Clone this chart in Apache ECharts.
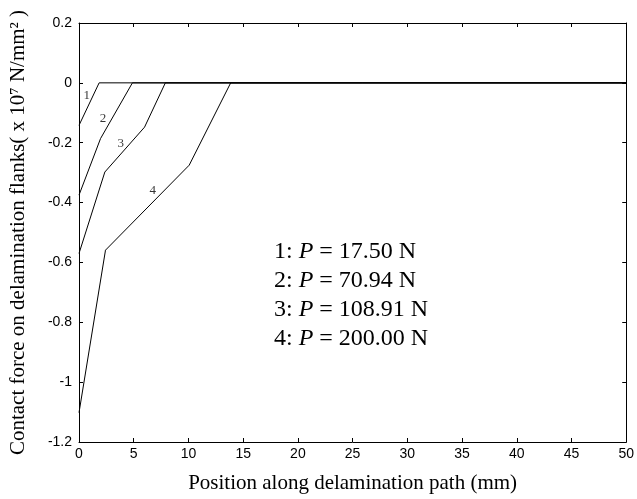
<!DOCTYPE html>
<html>
<head>
<meta charset="utf-8">
<script src="https://cdn.jsdelivr.net/npm/echarts@6/dist/echarts.min.js"></script>
<style>
  html, body { margin: 0; padding: 0; background: #fff; }
  #chart { width: 637px; height: 499px; }
</style>
</head>
<body>
<div id="chart"></div>
<script>
// Contact force profiles along the delamination path, one per load level
const curve1 = [[0, -0.142], [1.84, 0], [50, 0]];
const curve2 = [[0, -0.375], [1.97, -0.186], [4.88, 0], [50, 0]];
const curve3 = [[0, -0.570], [2.36, -0.298], [5.99, -0.148], [7.89, 0], [50, 0]];
const curve4 = [[0, -1.102], [2.42, -0.559], [10.07, -0.275], [13.86, 0], [50, 0]];

// Curve number tags placed beside each profile
const curveTags = [
  { name: '1', value: [0.70, -0.042] },
  { name: '2', value: [2.19, -0.12] },
  { name: '3', value: [3.81, -0.203] },
  { name: '4', value: [6.74, -0.359] }
];

// Load levels listed in the annotation block
const loadIds = ['1', '2', '3', '4'];
const loadValues = ['17.50', '70.94', '108.91', '200.00'];

const xTitle = 'Position along delamination path (mm)';
const yTitle = 'Contact force on delamination flanks( x 10\u2077 N/mm\u00B2 )';

const chart = echarts.init(document.getElementById('chart'), null, { renderer: 'canvas' });

const lineStyle = { color: '#000', width: 1 };
const mkLine = (d) => ({
  type: 'line', data: d, symbol: 'none', xAxisIndex: 0, yAxisIndex: 0,
  lineStyle: lineStyle, animation: false, silent: true
});

const axisLineBlack = { show: true, onZero: false, lineStyle: { color: '#000', width: 1 } };
const tickInside = { show: true, inside: true, length: 4, lineStyle: { color: '#000' } };

const graphicTexts = loadIds.map((id, i) => ({
  type: 'text',
  left: 274,
  top: 240 + i * 29,
  style: {
    text: '{n|' + id + ': }{p|P}{n| = ' + loadValues[i] + ' N}',
    rich: {
      n: { fontFamily: 'Liberation Serif', fontSize: 24, fill: '#000' },
      p: { fontFamily: 'Liberation Serif', fontSize: 24, fontStyle: 'italic', fill: '#000' }
    }
  }
}));

chart.setOption({
  animation: false,
  backgroundColor: '#fff',
  grid: { left: 79, right: 7, top: 23, bottom: 56, containLabel: false },
  xAxis: [
    {
      type: 'value', min: 0, max: 50, interval: 5,
      axisLine: axisLineBlack,
      axisTick: tickInside,
      axisLabel: { color: '#000', fontFamily: 'Liberation Sans', fontSize: 14, margin: 5 },
      splitLine: { show: false },
      name: xTitle, nameLocation: 'middle', nameGap: 31,
      nameTextStyle: { color: '#000', fontFamily: 'Liberation Serif', fontSize: 21 }
    },
    {
      type: 'value', min: 0, max: 50, interval: 5, position: 'top',
      axisLine: axisLineBlack,
      axisTick: tickInside,
      axisLabel: { show: false },
      splitLine: { show: false }
    }
  ],
  yAxis: [
    {
      type: 'value', min: -1.2, max: 0.2, interval: 0.2,
      axisLine: axisLineBlack,
      axisTick: tickInside,
      axisLabel: { color: '#000', fontFamily: 'Liberation Sans', fontSize: 14, margin: 7 },
      splitLine: { show: false },
      name: yTitle, nameLocation: 'middle', nameGap: 50, nameRotate: 90,
      nameTextStyle: { color: '#000', fontFamily: 'Liberation Serif', fontSize: 21 }
    },
    {
      type: 'value', min: -1.2, max: 0.2, interval: 0.2, position: 'right',
      axisLine: axisLineBlack,
      axisTick: tickInside,
      axisLabel: { show: false },
      splitLine: { show: false }
    }
  ],
  series: [
    mkLine(curve1),
    mkLine(curve2),
    mkLine(curve3),
    mkLine(curve4),
    {
      type: 'scatter', data: curveTags, symbolSize: 0, silent: true,
      label: {
        show: true, position: 'inside', formatter: (p) => p.name,
        color: '#000', fontFamily: 'Liberation Serif', fontSize: 13
      }
    }
  ],
  graphic: graphicTexts
});
</script>
</body>
</html>
